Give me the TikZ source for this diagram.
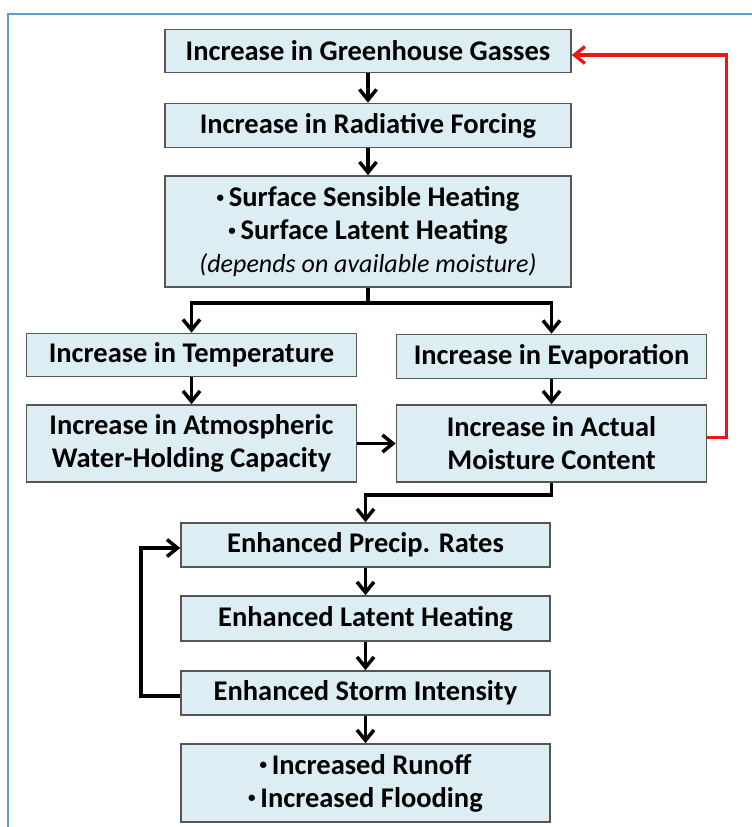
\documentclass[tikz,border=0pt]{standalone}
\usepackage{fontspec}
\setmainfont{Carlito}
\usetikzlibrary{arrows.meta}
\definecolor{boxfill}{HTML}{DCEEF4}
\definecolor{boxline}{HTML}{555555}
\definecolor{frameblue}{HTML}{5B9BD5}
\definecolor{loopred}{HTML}{F01414}
% small raised bullet for list lines
\newcommand{\itemdot}{\raisebox{0.32ex}{\fontsize{15}{15}\selectfont\textbullet}\,}
\begin{document}
\begin{tikzpicture}[x=1pt,y=-1pt,
  box/.style={draw=boxline, line width=1.6pt, fill=boxfill, inner sep=0pt,
    align=center, font=\fontsize{28.5}{33}\selectfont\bfseries},
  flow/.style={line width=3.5pt, -{Straight Barb[length=10.5pt,width=17pt]}},
  link/.style={line width=3.5pt},
  redflow/.style={loopred, line width=3.3pt, -{Straight Barb[length=10.5pt,width=17pt]}}
]
\useasboundingbox (0,0) rectangle (752,827);
% outer frame
\draw[frameblue, line width=2pt] (8,827) -- (8,14) -- (752,14);

% boxes
\node[box, minimum width=406pt, minimum height=43pt] (ghg) at (368,51) {Increase in Greenhouse Gasses};
\node[box, minimum width=406pt, minimum height=44pt] (rf) at (368,125.5) {Increase in Radiative Forcing};
\node[box, minimum width=406pt, minimum height=111pt] (surf) at (368,231.5)
  {\itemdot Surface Sensible Heating\\
   \itemdot Surface Latent Heating\\
   {\fontsize{26}{33}\selectfont\mdseries\itshape (depends on available moisture)}};
\node[box, minimum width=330pt, minimum height=43pt] (temp) at (191.5,355) {Increase in Temperature};
\node[box, minimum width=310pt, minimum height=44pt] (evap) at (551.5,356.5) {Increase in Evaporation};
\node[box, minimum width=330pt, minimum height=77pt] (atm) at (191.5,443.5)
  {Increase in Atmospheric\\ Water-Holding Capacity};
\node[box, minimum width=310pt, minimum height=77pt] (act) at (551.5,443.5)
  {Increase in Actual\\ Moisture Content};
\node[box, minimum width=369pt, minimum height=44pt] (precip) at (365.5,545) {Enhanced Precip. Rates};
\node[box, minimum width=369pt, minimum height=45pt] (lat) at (365.5,618.5) {Enhanced Latent Heating};
\node[box, minimum width=369pt, minimum height=44pt] (storm) at (365.5,693) {Enhanced Storm Intensity};
\node[box, minimum width=369pt, minimum height=78pt] (out) at (365.5,783)
  {\itemdot Increased Runoff\\ \itemdot Increased Flooding};

% connectors
\draw[flow] (ghg) -- (rf);
\draw[flow] (rf) -- (surf);
\coordinate (split) at (368,303);
\draw[link] (surf.south) -- (split);
\draw[flow] (split) -| (temp.north);
\draw[flow] (split) -| (evap.north);
\draw[flow] (temp) -- (atm);
\draw[flow] (evap) -- (act);
\draw[flow] (atm) -- (act);
\draw[flow] (act.south) -- ++(0,12) -| (precip.north);
\draw[flow] (precip) -- (lat);
\draw[flow] (lat) -- (storm);
\draw[flow] (storm) -- (out);
\draw[flow] ([yshift=-3pt]storm.west) -- ++(-39,0) |- ([yshift=-3pt]precip.west);
\draw[redflow] ([yshift=6pt]act.east) -- ++(19,0) |- ([yshift=-4pt]ghg.east);
\end{tikzpicture}
\end{document}
